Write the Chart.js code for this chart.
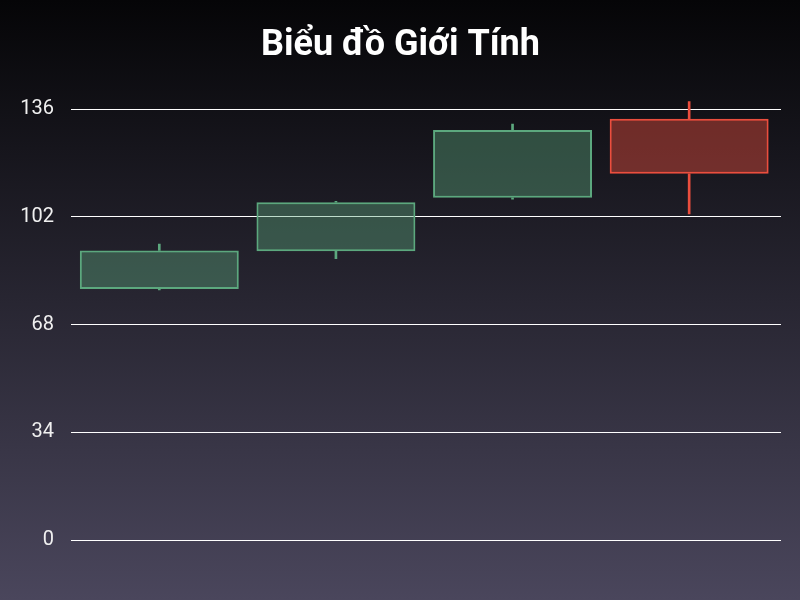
<!DOCTYPE html>
<html>
<head>
<meta charset="utf-8">
<script src="https://cdn.jsdelivr.net/npm/chart.js@4/dist/chart.umd.min.js"></script>
<style>
  html, body { margin: 0; padding: 0; }
  body { width: 800px; height: 600px; background: linear-gradient(to bottom, #050507 0%, #4a465c 100%); }
  #wrap { width: 800px; height: 600px; position: relative; }
</style>
</head>
<body>
<div id="wrap"><canvas id="c" width="800" height="600"></canvas></div>
<script>
const categories = ["1", "2", "3", "4"];
const openValues  = [79.2, 91.1, 108.0, 133.0];
const highValues  = [93.4, 106.9, 131.3, 138.5];
const lowValues   = [78.9, 88.8, 107.6, 102.9];
const closeValues = [91.4, 106.6, 129.4, 115.6];
const yTicks = [0, 34, 68, 102, 136];

const UP_BORDER = 'rgb(92,168,126)';
const UP_FILL = 'rgba(92,168,126,0.4)';
const DOWN_BORDER = 'rgb(235,78,62)';
const DOWN_FILL = 'rgba(235,78,62,0.43)';

const isUp = categories.map((_, i) => closeValues[i] >= openValues[i]);
const bodyData = categories.map((_, i) => ({ x: i, y: [openValues[i], closeValues[i]] }));
const upperWick = categories.map((_, i) => ({ x: i, y: [Math.max(openValues[i], closeValues[i]), highValues[i]] }));
const lowerWick = categories.map((_, i) => ({ x: i, y: [lowValues[i], Math.min(openValues[i], closeValues[i])] }));
const borderColors = isUp.map(u => u ? UP_BORDER : DOWN_BORDER);
const fillColors = isUp.map(u => u ? UP_FILL : DOWN_FILL);

new Chart(document.getElementById('c'), {
  type: 'bar',
  data: {
    datasets: [
      { label: 'body', data: bodyData, backgroundColor: fillColors, borderColor: borderColors, borderWidth: 2, borderSkipped: false, grouped: false, categoryPercentage: 1, barPercentage: 0.9, order: 1 },
      { label: 'upper', data: upperWick, backgroundColor: borderColors, borderWidth: 0, grouped: false, barThickness: 2, order: 2 },
      { label: 'lower', data: lowerWick, backgroundColor: borderColors, borderWidth: 0, grouped: false, barThickness: 2, order: 2 }
    ]
  },
  options: {
    responsive: false,
    animation: false,
    layout: { padding: { left: 20, right: 19, top: 0, bottom: 60 } },
    plugins: {
      legend: { display: false },
      tooltip: { enabled: false },
      title: {
        display: true,
        text: 'Biểu đồ Giới Tính',
        color: '#ffffff',
        font: { family: 'Roboto', size: 36, weight: 'bold' },
        padding: { top: 24, bottom: 34 }
      }
    },
    scales: {
      x: {
        type: 'linear',
        display: false,
        min: -0.5,
        max: 3.52,
        offset: false,
        afterBuildTicks: (axis) => { axis.ticks = categories.map((_, i) => ({ value: i })); }
      },
      y: {
        min: 0,
        max: 138.5,
        border: { display: false },
        grid: { color: '#ffffff', lineWidth: 1, drawTicks: false },
        afterBuildTicks: (axis) => { axis.ticks = yTicks.map(v => ({ value: v })); },
        afterFit: (axis) => { axis.width = 51; },
        ticks: {
          color: '#f0f0f0',
          padding: 17,
          font: { family: 'Roboto', size: 20 }
        }
      }
    }
  }
});
</script>
</body>
</html>
